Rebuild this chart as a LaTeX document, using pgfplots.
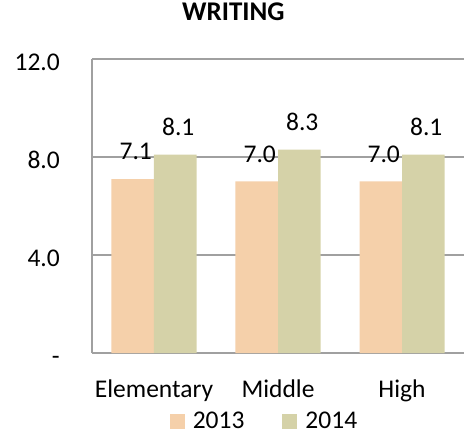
\documentclass[border=0pt]{standalone}
\usepackage{fontspec}
\setmainfont{Carlito}
\usepackage{pgfplots}
\pgfplotsset{compat=1.18}

\definecolor{peach}{RGB}{245,208,170}
\definecolor{sage}{RGB}{213,210,168}
\definecolor{gridgray}{RGB}{160,160,160}

\begin{document}
\fontsize{25.5bp}{30bp}\selectfont
\begin{tikzpicture}
\begin{axis}[
    scale only axis,
    width=372bp, height=294bp,
    at={(0,0)}, anchor=south west,
    ybar=0pt, bar width=42.5bp,
    xmin=-0.5, xmax=2.5,
    ymin=0, ymax=12,
    xtick=data,
    xticklabels={Elementary, Middle, High},
    ytick={0,4,8,12},
    yticklabels={-, 4.0, 8.0, 12.0},
    major tick length=0pt,
    axis x line*=bottom, axis y line*=left,
    axis line style={gridgray, line width=1.5bp, -},
    ymajorgrids,
    major grid style={gridgray, line width=1.2bp},
    xticklabel style={anchor=base, yshift=-44bp},
    yticklabel style={anchor=base east, inner sep=0pt, xshift=-32bp, yshift=-11.5bp},
    /pgf/number format/assume math mode=true,
    nodes near coords,
    nodes near coords style={anchor=south, inner sep=0pt, yshift=19bp, xshift=3bp,
        /pgf/number format/fixed, /pgf/number format/fixed zerofill, /pgf/number format/precision=1},
    title={\bfseries WRITING},
    title style={at={(rel axis cs:0.380,1.109)}, anchor=base, inner sep=0pt, font=\fontsize{27bp}{32bp}\selectfont\bfseries},
    legend columns=2,
    legend style={draw=none, fill=none, at={(rel axis cs:0.4637,-0.2347)}, anchor=center,
        /tikz/every odd column/.append style={column sep=6bp},
        /tikz/every even column/.append style={column sep=36bp},
        inner sep=0pt, font=\fontsize{25.5bp}{30bp}\selectfont},
    legend image code/.code={\fill[#1] (0bp,-7bp) rectangle (15bp,8bp);},
    clip=false,
]
\addplot[fill=peach, draw=none] coordinates {(0,7.1) (1,7.0) (2,7.0)};
\addlegendentry{2013}
\addplot[fill=sage, draw=none] coordinates {(0,8.1) (1,8.3) (2,8.1)};
\addlegendentry{2014}
\end{axis}
\pgfresetboundingbox
\path (-92bp,-83bp) rectangle (374bp,353bp);
\end{tikzpicture}
\end{document}
